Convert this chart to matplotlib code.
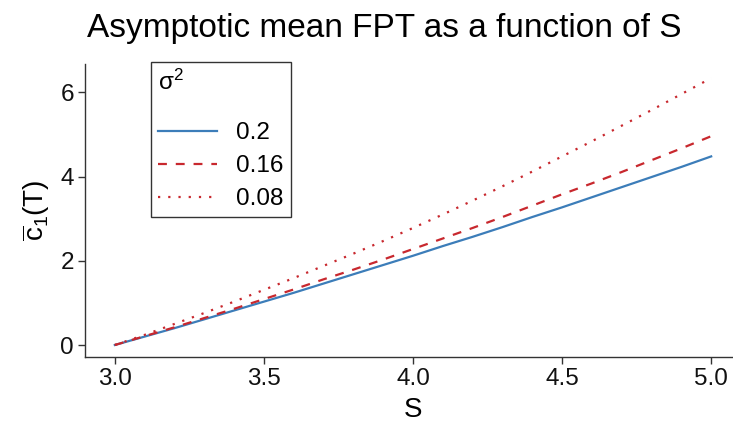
import numpy as np
import matplotlib.pyplot as plt

plt.rcParams['font.family'] = ['Liberation Sans', 'DejaVu Sans']
plt.rcParams['mathtext.fontset'] = 'custom'
plt.rcParams['mathtext.rm'] = 'Liberation Sans'
plt.rcParams['mathtext.it'] = 'Liberation Sans:italic'

# values
S = [3.0, 3.1, 3.2, 3.3, 3.4, 3.5, 3.6, 3.7, 3.8, 3.9, 4.0,
     4.1, 4.2, 4.3, 4.4, 4.5, 4.6, 4.7, 4.8, 4.9, 5.0]
c_02 = [0.00, 0.20, 0.40, 0.61, 0.82, 1.03, 1.24, 1.46, 1.68, 1.90, 2.12,
        2.35, 2.57, 2.80, 3.04, 3.27, 3.51, 3.75, 3.99, 4.23, 4.48]
c_016 = [0.00, 0.21, 0.42, 0.64, 0.86, 1.09, 1.32, 1.56, 1.79, 2.03, 2.28,
         2.53, 2.78, 3.04, 3.31, 3.58, 3.84, 4.11, 4.39, 4.67, 4.96]
c_008 = [0.00, 0.24, 0.50, 0.76, 1.03, 1.31, 1.59, 1.88, 2.17, 2.47, 2.78,
         3.10, 3.43, 3.77, 4.12, 4.48, 4.84, 5.21, 5.58, 5.96, 6.34]
sigma_labels = ['0.2', '0.16', '0.08']
xticks = [3.0, 3.5, 4.0, 4.5, 5.0]
yticks = [0, 2, 4, 6]

blue = '#3C7DB9'
red = '#C8282E'
axcol = '#333333'

fig = plt.figure(figsize=(7.33, 4.30), dpi=100)
W, H = 733, 430
ax = fig.add_axes([85 / W, (H - 357) / H, (741 - 85) / W, (357 - 64) / H])

lw = 1.6
ax.plot(S, c_02, color=blue, lw=lw, label=sigma_labels[0])
ax.plot(S, c_016, color=red, lw=lw, dashes=(4, 4), label=sigma_labels[1])
ax.plot(S, c_008, color=red, lw=lw, dashes=(1, 3.6), label=sigma_labels[2])

ax.set_xlim(2.9, 5.1)
ax.set_ylim(-0.285, 6.675)
ax.set_xticks(xticks)
ax.set_xticklabels(['%.1f' % v for v in xticks])
ax.set_yticks(yticks)

for side in ['top', 'right']:
    ax.spines[side].set_visible(False)
for side in ['left', 'bottom']:
    ax.spines[side].set_color(axcol)
    ax.spines[side].set_linewidth(1.0)
ax.tick_params(axis='both', length=5, width=1.0, color=axcol,
               labelsize=17.5, labelcolor='#111111', pad=3)

ax.set_xlabel('S', fontsize=20, labelpad=5)
ax.set_ylabel(r'$\mathregular{\overline{c}_1(T)}$', fontsize=20, labelpad=6)
fig.suptitle('Asymptotic mean FPT as a function of S', fontsize=24,
             x=384 / W, y=1 - 28 / H, va='center')

leg = ax.legend(title=r'$\mathregular{\sigma^2}$', loc='upper left',
                bbox_to_anchor=(0.1006, 1.007), borderaxespad=0,
                fontsize=17.5, title_fontsize=17.5, frameon=True,
                fancybox=False, edgecolor='black', handlelength=2.4,
                handletextpad=0.8, labelspacing=0.45, borderpad=0.3,
                alignment='left')
leg.get_frame().set_linewidth(1.0)
# extra gap between the legend title and its keys
leg._legend_box.sep = 20

fig.savefig('out.png', dpi=100)
